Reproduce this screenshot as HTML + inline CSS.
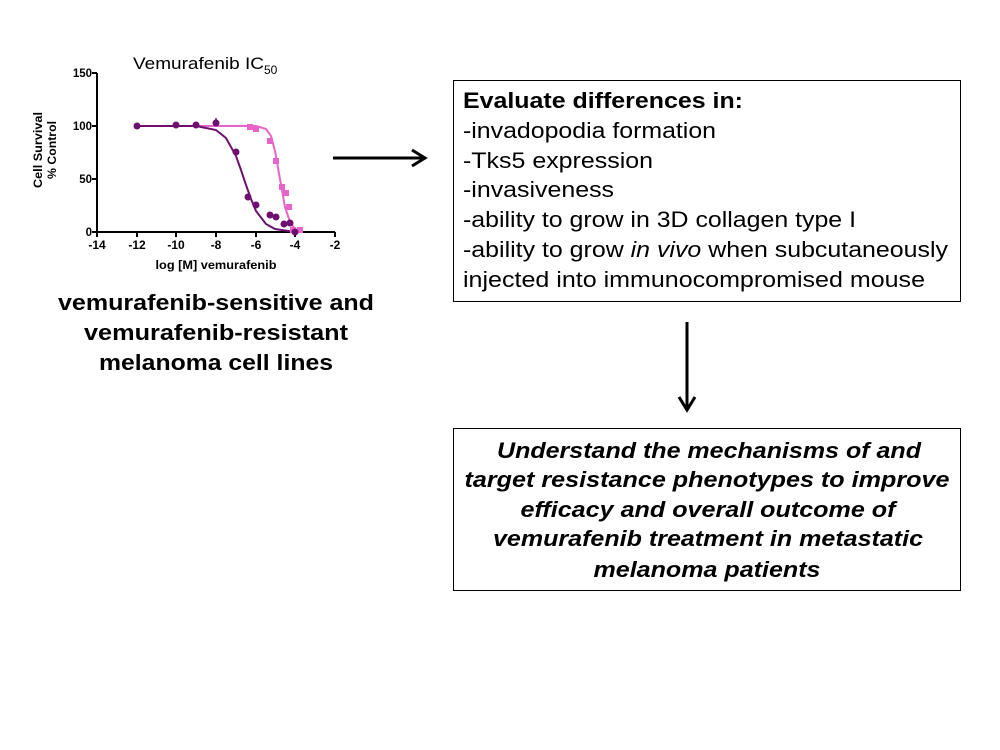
<!DOCTYPE html>
<html><head><style>
body{margin:0;background:#fff;width:1000px;height:750px;position:relative;overflow:hidden;font-family:"Liberation Sans",sans-serif;color:#000}
</style></head><body>
<svg width="1000" height="750" style="position:absolute;left:0;top:0" font-family="Liberation Sans, sans-serif">
<text x="133" y="69" font-size="17" textLength="131" lengthAdjust="spacingAndGlyphs">Vemurafenib IC</text><text x="264" y="74" font-size="12">50</text>
<g stroke="#000" stroke-width="2" fill="none">
<line x1="97" y1="73" x2="97" y2="232"/><line x1="97" y1="232" x2="335" y2="232"/>
<line x1="92" y1="73" x2="97" y2="73"/><line x1="92" y1="126" x2="97" y2="126"/><line x1="92" y1="179" x2="97" y2="179"/><line x1="92" y1="232" x2="97" y2="232"/>
<line x1="97" y1="232" x2="97" y2="237"/><line x1="137" y1="232" x2="137" y2="237"/><line x1="176" y1="232" x2="176" y2="237"/><line x1="216" y1="232" x2="216" y2="237"/><line x1="256" y1="232" x2="256" y2="237"/><line x1="295" y1="232" x2="295" y2="237"/><line x1="335" y1="232" x2="335" y2="237"/>
</g>
<g font-size="11.5" font-weight="bold" text-anchor="end">
<text x="92" y="77">150</text><text x="92" y="130">100</text><text x="92" y="183">50</text><text x="92" y="236">0</text>
</g>
<g font-size="12" font-weight="bold" text-anchor="middle">
<text x="97" y="249">-14</text><text x="137" y="249">-12</text><text x="176" y="249">-10</text><text x="216" y="249">-8</text><text x="256" y="249">-6</text><text x="295" y="249">-4</text><text x="335" y="249">-2</text>
<text x="216" y="269" textLength="121" lengthAdjust="spacingAndGlyphs">log [M] vemurafenib</text>
<text transform="translate(42,150) rotate(-90)" textLength="76" lengthAdjust="spacingAndGlyphs">Cell Survival</text>
<text transform="translate(56,150) rotate(-90)" textLength="58" lengthAdjust="spacingAndGlyphs">% Control</text>
</g>
<polyline fill="none" stroke="#e964c8" stroke-width="2" points="137,126 236,126 256,126 266,129 271,136 275,151 280,179 285,207 290,222 295,229 300,231"/>
<polyline fill="none" stroke="#6e1070" stroke-width="2" points="137,126 196,126 216,130 226,138 236,156 241,170 246,185 251,199 256,211 266,224 275,229 295,232 299,232"/>
<g fill="#e964c8">
<rect x="247" y="124" width="6" height="6"/><rect x="253" y="126" width="6" height="6"/><rect x="267" y="138" width="6" height="6"/><rect x="273" y="158" width="6" height="6"/><rect x="279" y="184" width="6" height="6"/><rect x="283" y="190" width="6" height="6"/><rect x="286" y="204" width="6" height="6"/><rect x="297" y="227" width="6" height="6"/><rect x="290" y="227" width="6" height="6"/>
</g>
<g fill="#6e1070">
<circle cx="137" cy="126" r="3.5"/><circle cx="176" cy="125" r="3.5"/><circle cx="196" cy="125" r="3.5"/><circle cx="216" cy="123" r="3.5"/><circle cx="236" cy="152" r="3.5"/><circle cx="248" cy="197" r="3.5"/><circle cx="256" cy="205" r="3.5"/><circle cx="270" cy="215" r="3.5"/><circle cx="276" cy="217" r="3.5"/><circle cx="284" cy="224" r="3.5"/><circle cx="290" cy="223" r="3.5"/><circle cx="295" cy="232" r="3.5"/>
</g>
<line x1="216" y1="118" x2="216" y2="123" stroke="#6e1070" stroke-width="1.5"/>
<g stroke="#000" stroke-width="3" fill="none">
<line x1="333" y1="158" x2="424" y2="158"/><polyline points="412,150 425,158 412,166"/>
<line x1="687" y1="322" x2="687" y2="409"/><polyline points="679,397 687,410 695,397"/>
</g>
<g font-size="22" font-weight="bold" text-anchor="middle">
<text x="216" y="310" textLength="316" lengthAdjust="spacingAndGlyphs">vemurafenib-sensitive and</text>
<text x="216" y="340" textLength="264" lengthAdjust="spacingAndGlyphs">vemurafenib-resistant</text>
<text x="216" y="370" textLength="234" lengthAdjust="spacingAndGlyphs">melanoma cell lines</text>
</g>
<rect x="453.5" y="80.5" width="507" height="221" fill="none" stroke="#000" stroke-width="1"/>
<rect x="453.5" y="428.5" width="507" height="162" fill="none" stroke="#000" stroke-width="1"/>
<g font-size="22.5">
<text x="463" y="108" font-weight="bold" textLength="280" lengthAdjust="spacingAndGlyphs">Evaluate differences in:</text>
<text x="463" y="138" textLength="253" lengthAdjust="spacingAndGlyphs">-invadopodia formation</text>
<text x="463" y="168" textLength="190" lengthAdjust="spacingAndGlyphs">-Tks5 expression</text>
<text x="463" y="197" textLength="151" lengthAdjust="spacingAndGlyphs">-invasiveness</text>
<text x="463" y="227" textLength="393" lengthAdjust="spacingAndGlyphs">-ability to grow in 3D collagen type I</text>
<text x="463" y="257" textLength="485" lengthAdjust="spacingAndGlyphs">-ability to grow <tspan font-style="italic">in vivo</tspan> when subcutaneously</text>
<text x="463" y="287" textLength="462" lengthAdjust="spacingAndGlyphs">injected into immunocompromised mouse</text>
</g>
<g font-size="22.5" font-weight="bold" font-style="italic" text-anchor="middle">
<text x="709" y="458" textLength="424" lengthAdjust="spacingAndGlyphs">Understand the mechanisms of and</text>
<text x="707" y="487" textLength="485" lengthAdjust="spacingAndGlyphs">target resistance phenotypes to improve</text>
<text x="708" y="517" textLength="375" lengthAdjust="spacingAndGlyphs">efficacy and overall outcome of</text>
<text x="708" y="546" textLength="430" lengthAdjust="spacingAndGlyphs">vemurafenib treatment in metastatic</text>
<text x="707" y="577" textLength="227" lengthAdjust="spacingAndGlyphs">melanoma patients</text>
</g>
</svg>
</body></html>
